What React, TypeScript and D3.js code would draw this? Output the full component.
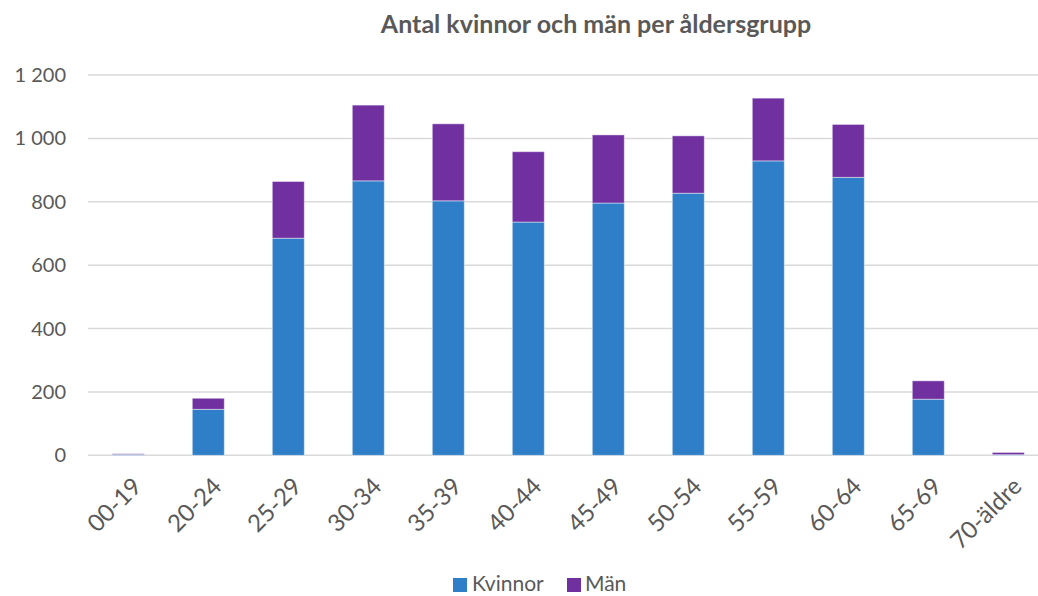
import React from "react";
import * as d3 from "d3";

const categories = ["00-19", "20-24", "25-29", "30-34", "35-39", "40-44", "45-49", "50-54", "55-59", "60-64", "65-69", "70-äldre"];
const kvinnor = [3, 145, 685, 866, 803, 736, 796, 827, 929, 877, 177, 2];
const man = [2, 35, 179, 239, 243, 222, 215, 181, 198, 167, 58, 7];
const yTicks = [0, 200, 400, 600, 800, 1000, 1200];
const seriesNames = ["Kvinnor", "Män"];
const colors = ["#2F7EC8", "#7030A0"];

const W = 1038;
const H = 596;
const FONT = "Lato, 'Open Sans', sans-serif";

export default function App() {
  const x = d3.scaleBand<string>().domain(categories).range([88.3, 1048.3]).paddingInner(0.6).paddingOuter(0.3);
  const y = d3.scaleLinear().domain([0, 1200]).range([455.3, 75]);
  const fmt = (v: number) => d3.format(",")(v).replace(/,/g, " ");
  const rows = categories.map((c, i) => ({ cat: c, Kvinnor: kvinnor[i], Män: man[i] }));
  const stacked = d3.stack<any>().keys(seriesNames)(rows);

  return (
    <svg width={W} height={H} style={{ display: "block", position: "absolute", left: 0, top: 0 }} fontFamily={FONT}>
      <rect width={W} height={H} fill="#fff" />
      <text x={596} y={33} textAnchor="middle" fontSize={25} fontWeight="bold" fill="#595959">
        Antal kvinnor och män per åldersgrupp
      </text>
      {yTicks.map((t) => (
        <g key={t}>
          <line x1={88} x2={W} y1={y(t)} y2={y(t)} stroke="#d9d9d9" strokeWidth={1.5} />
          <text x={66} y={y(t)} dy="0.35em" textAnchor="end" fontSize={20} fill="#595959">
            {fmt(t)}
          </text>
        </g>
      ))}
      {stacked.map((s, si) => (
        <g key={si} fill={colors[si]}>
          {s.map((d: any, i: number) => (
            <rect
              key={i}
              x={x(categories[i])!}
              width={x.bandwidth()}
              y={y(d[1])}
              height={Math.max(0, y(d[0]) - y(d[1]))}
              stroke="#ffffff"
              strokeOpacity={0.45}
              strokeWidth={1}
            />
          ))}
        </g>
      ))}
      {categories.map((c) => {
        const cx = x(c)! + x.bandwidth() / 2;
        return (
          <text
            key={c}
            transform={`translate(${cx + 3},${476}) rotate(-45)`}
            textAnchor="end"
            dy="0.7em"
            fontSize={24}
            fill="#595959"
          >
            {c}
          </text>
        );
      })}
      <g>
        <rect x={453} y={578} width={14} height={14} fill={colors[0]} />
        <text x={472} y={591} fontSize={21} fill="#595959">Kvinnor</text>
        <rect x={567} y={578} width={14} height={14} fill={colors[1]} />
        <text x={585} y={591} fontSize={21} fill="#595959">Män</text>
      </g>
    </svg>
  );
}
